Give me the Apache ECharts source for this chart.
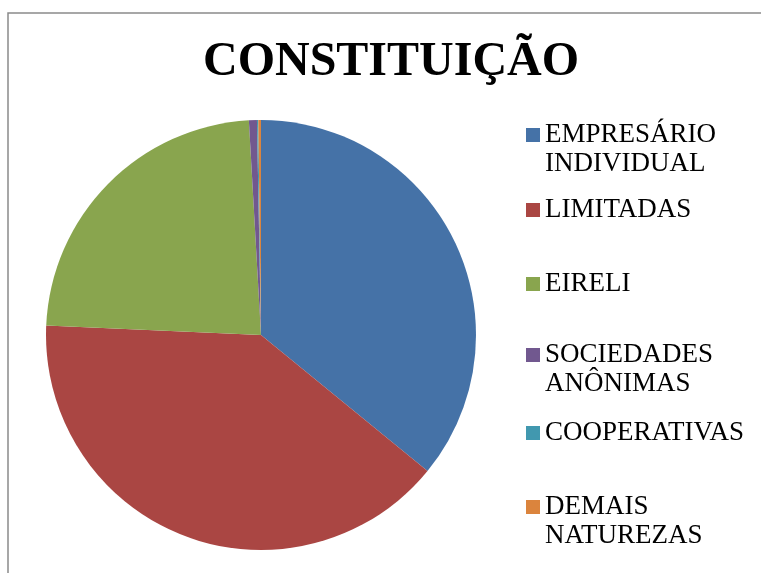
<!DOCTYPE html>
<html>
<head>
<meta charset="utf-8">
<script src="https://cdn.jsdelivr.net/npm/echarts@6/dist/echarts.min.js"></script>
<style>
  html, body { margin: 0; padding: 0; background: #fff; }
  #main { width: 761px; height: 573px; }
</style>
</head>
<body>
<div id="main"></div>
<script>
var categories = ['EMPRESÁRIO\nINDIVIDUAL', 'LIMITADAS', 'EIRELI', 'SOCIEDADES\nANÔNIMAS', 'COOPERATIVAS', 'DEMAIS\nNATUREZAS'];
var shares = [35.9, 39.8, 23.4, 0.6, 0.1, 0.2];
var colors = ['#4572A7', '#AA4643', '#89A54E', '#71588F', '#4198AF', '#DB843D'];

var chartDom = document.getElementById('main');
var myChart = echarts.init(chartDom);
var option;

// icon centre y of each legend entry
var legendY = [135, 210, 284, 355, 433, 507];
var lineH = 29;

var legends = categories.map(function (name, i) {
  var twoLines = name.indexOf('\n') >= 0;
  return {
    data: [name],
    orient: 'vertical',
    left: 526,
    top: twoLines ? legendY[i] - lineH * 1.5 : legendY[i] - lineH / 2,
    padding: 0,
    itemWidth: 14,
    itemHeight: 14,
    itemGap: 0,
    icon: 'rect',
    selectedMode: false,
    // a blank first line keeps the first text line level with the square
    formatter: function (n) {
      return n.indexOf('\n') >= 0 ? ' \n' + n : n;
    },
    textStyle: {
      fontFamily: 'Liberation Serif',
      fontSize: 27,
      lineHeight: lineH,
      color: '#000'
    }
  };
});

option = {
  animation: false,
  color: colors,
  title: {
    text: 'CONSTITUIÇÃO',
    left: 386,
    top: 34,
    textAlign: 'center',
    textStyle: {
      fontFamily: 'Liberation Serif',
      fontSize: 48,
      fontWeight: 'bold',
      color: '#000'
    }
  },
  legend: legends,
  graphic: [
    {
      type: 'rect',
      shape: { x: 8, y: 13, width: 800, height: 600 },
      style: { fill: 'none', stroke: '#8a8a8a', lineWidth: 1.5 },
      silent: true
    }
  ],
  series: [
    {
      type: 'pie',
      center: [261, 335],
      radius: 215,
      startAngle: 90,
      clockwise: true,
      label: { show: false },
      labelLine: { show: false },
      itemStyle: { borderWidth: 0 },
      emphasis: { disabled: true },
      data: categories.map(function (c, i) {
        return { name: c, value: shares[i] };
      })
    }
  ]
};

option && myChart.setOption(option);
</script>
</body>
</html>
